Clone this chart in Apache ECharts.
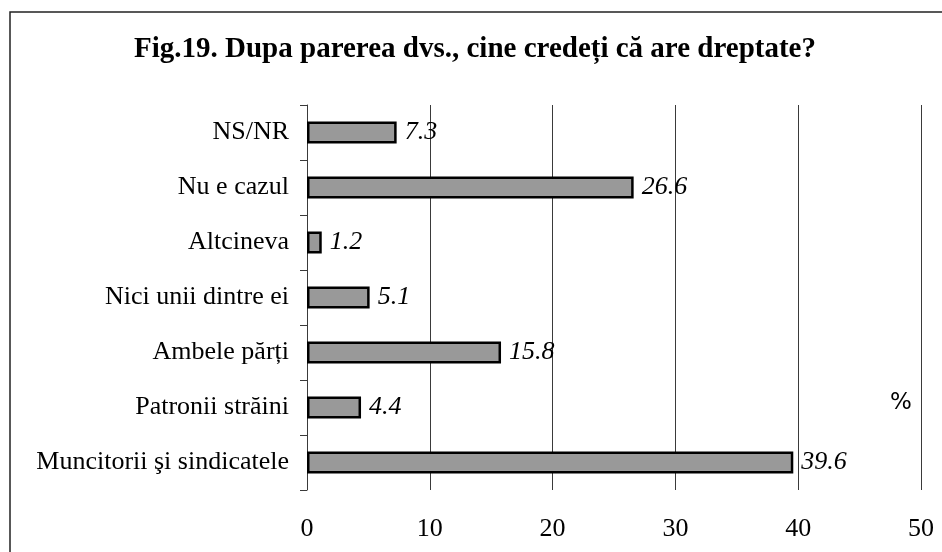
<!DOCTYPE html>
<html>
<head>
<meta charset="utf-8">
<script src="https://cdn.jsdelivr.net/npm/echarts@6/dist/echarts.min.js"></script>
<style>
  html, body { margin: 0; padding: 0; background: #fff; }
  #container { width: 942px; height: 552px; }
</style>
</head>
<body>
<div id="container"></div>
<script>
// categories listed bottom to top (category axis draws first item at the bottom)
var categories = ["Muncitorii şi sindicatele", "Patronii străini", "Ambele părți", "Nici unii dintre ei", "Altcineva", "Nu e cazul", "NS/NR"];
var values = [39.6, 4.4, 15.8, 5.1, 1.2, 26.6, 7.3];
var xTicks = [0, 10, 20, 30, 40, 50];

var serif = "'Liberation Serif', 'DejaVu Serif', serif";
var myChart = echarts.init(document.getElementById("container"));

var option = {
  backgroundColor: "#fff",
  animation: false,
  title: {
    text: "Fig.19. Dupa parerea dvs., cine credeți că are dreptate?",
    left: 470,
    textAlign: "center",
    top: 30,
    textStyle: { fontFamily: serif, fontWeight: "bold", fontSize: 29, color: "#000" }
  },
  graphic: [
    {
      type: "rect",
      shape: { x: 10, y: 12, width: 945, height: 560 },
      style: { fill: "none", stroke: "#222", lineWidth: 1.5 },
      silent: true
    },
    {
      type: "text",
      x: 901,
      y: 403,
      style: { text: "%", font: "23px 'DejaVu Sans', sans-serif", fill: "#000", align: "center", verticalAlign: "middle" }
    }
  ],
  grid: { left: 307, right: 21, top: 105, bottom: 62, containLabel: false },
  xAxis: {
    type: "value",
    min: xTicks[0],
    max: xTicks[xTicks.length - 1],
    interval: 10,
    axisLine: { show: false },
    axisTick: { show: false },
    axisLabel: { fontFamily: serif, fontSize: 26, color: "#000", margin: 26 },
    splitLine: { show: true, lineStyle: { color: "#3a3a3a", width: 1 } }
  },
  yAxis: {
    type: "category",
    data: categories,
    axisLine: { show: true, lineStyle: { color: "#3a3a3a", width: 1 } },
    axisTick: { show: true, length: 7, lineStyle: { color: "#3a3a3a" } },
    axisLabel: { fontFamily: serif, fontSize: 26, color: "#000", margin: 18 }
  },
  series: [{
    type: "bar",
    data: values,
    barWidth: 22,
    itemStyle: { color: "#999999", borderColor: "#000", borderWidth: 2.5 },
    label: {
      show: true,
      position: "right",
      distance: 8,
      fontFamily: serif,
      fontStyle: "italic",
      fontSize: 26,
      color: "#000",
      formatter: function (p) { return p.value.toFixed(1); }
    }
  }]
};
option && myChart.setOption(option);
</script>
</body>
</html>
